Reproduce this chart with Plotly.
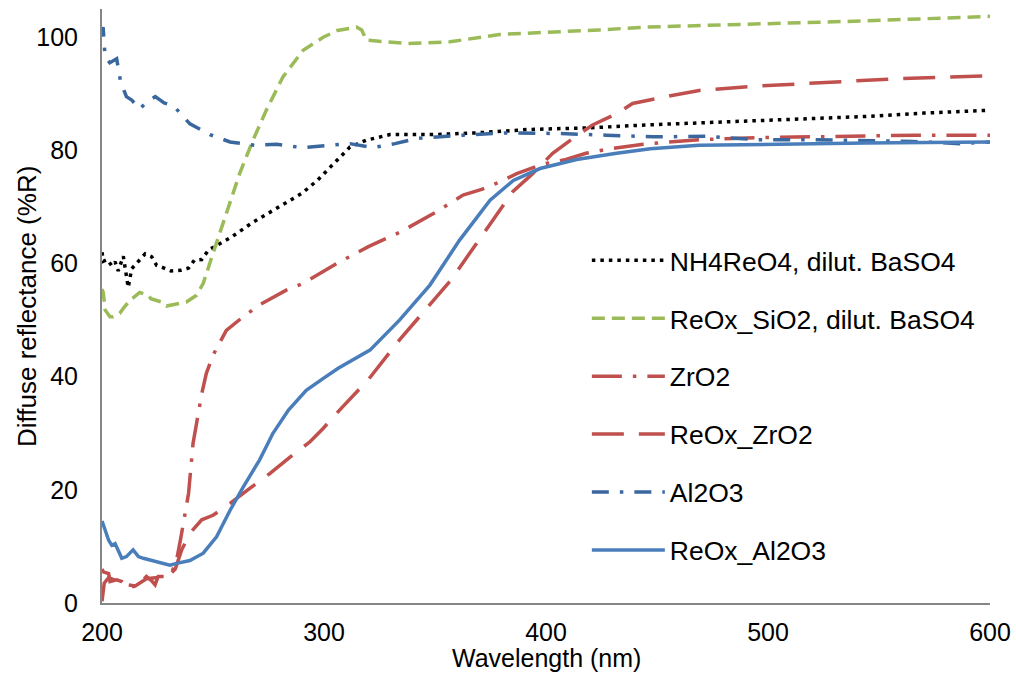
import plotly.graph_objects as go

# ---- data ----
nh4_x = [200, 200.6, 202.4, 204.4, 205.9, 207.3, 209.6, 210.8, 211.8, 213.4, 215.6, 219.4, 222.4, 224.6, 228, 231, 235.4, 239, 241.6, 244.9, 248, 258, 268, 279, 290, 297, 305.4, 311.7, 319, 329.7, 349, 368.7, 392, 419.8, 444.6, 469, 506.8, 544, 570, 600]
nh4_y = [62.0, 60.4, 60.7, 59.6, 60.3, 58.7, 61.3, 58.5, 55.8, 59.1, 60.0, 61.7, 61.2, 59.7, 59.2, 58.7, 58.8, 59.2, 60.6, 60.7, 62.4, 64.6, 67.3, 69.8, 72.4, 74.7, 78.1, 80.6, 81.8, 82.8, 82.8, 83.1, 83.7, 84.0, 84.5, 84.9, 85.4, 86.0, 86.6, 87.1]

sio2_x = [200, 200.6, 201.4, 203.6, 205, 208, 209.6, 212.6, 217, 220.9, 222, 226.9, 229, 233.6, 238, 242.6, 245.6, 250, 256, 262, 268, 274, 281.5, 290.6, 299.6, 306, 312, 314.7, 317, 319, 337, 356.8, 379, 409, 424, 445, 454, 499, 544, 600]
sio2_y = [55.5, 54.8, 51.8, 50.6, 50.6, 51.2, 52.1, 53.5, 54.9, 54.4, 53.8, 53.2, 52.5, 52.9, 53.2, 54.4, 56.5, 61.8, 68.9, 75.9, 81.8, 87.1, 93.0, 97.7, 100.0, 101.2, 101.6, 101.8, 101.3, 99.5, 98.9, 99.2, 100.5, 101.0, 101.3, 101.8, 101.9, 102.4, 102.9, 103.7]

zro2_x = [200, 200.6, 203, 203.6, 206.6, 209, 211, 214, 217, 220, 222.4, 223.9, 225.3, 229, 231.5, 233.6, 235.5, 237.4, 239, 241, 242.6, 245, 247, 250, 256, 263.6, 271, 283, 290.6, 305.7, 320, 334, 350, 362.6, 371, 379, 386.8, 398.8, 409, 418, 428.8, 443.8, 469, 499, 537, 567, 600]
zro2_y = [6.0, 5.5, 5.2, 3.8, 4.1, 3.8, 3.2, 2.9, 3.4, 4.7, 3.9, 3.2, 4.7, 4.7, 5.5, 7.6, 11.5, 16.1, 19.4, 28.2, 31.8, 37.1, 40.6, 43.8, 48.2, 50.6, 52.7, 55.3, 56.5, 60.0, 63.0, 65.5, 69.0, 72.1, 73.1, 74.4, 75.9, 77.6, 78.4, 79.5, 80.3, 81.1, 81.9, 82.3, 82.5, 82.7, 82.7]

rezro2_x = [200, 200.5, 201, 203, 206, 210, 215, 220, 225, 230, 233, 236, 240, 244.9, 250, 257.7, 266.7, 275.7, 284.7, 293.7, 299.7, 307, 320, 334, 357, 379, 385, 394, 403, 412, 421, 431.8, 439, 454, 469, 492, 514, 537, 559, 582, 600]
rezro2_y = [0.3, 1.5, 3.5, 4.5, 4.0, 3.3, 3.0, 4.3, 4.5, 4.8, 6.0, 9.5, 12.5, 14.7, 15.5, 17.6, 20.3, 22.9, 25.8, 28.5, 30.9, 34.1, 39.5, 46.5, 57.0, 69.4, 72.7, 75.9, 79.5, 82.1, 84.5, 86.5, 88.3, 89.5, 90.6, 91.3, 91.8, 92.3, 92.7, 93.0, 93.2]

al2o3_x = [200, 200.5, 201.4, 203.5, 206.6, 208.4, 211, 213.4, 217, 220, 224, 228, 232.4, 239.6, 248.6, 257.7, 269, 278.7, 290, 301, 311.7, 322, 332, 341.7, 362.6, 382, 404.8, 427, 448, 472, 495, 517, 540, 565, 586.5, 600]
al2o3_y = [100.5, 101.8, 96.5, 95.5, 96.2, 92.1, 89.5, 88.9, 87.3, 88.5, 89.5, 88.4, 87.8, 84.7, 82.8, 81.5, 80.9, 81.1, 80.5, 80.9, 81.2, 80.5, 81.2, 82.1, 82.7, 83.1, 83.0, 82.7, 82.4, 82.5, 81.9, 81.9, 81.8, 81.6, 81.2, 81.5]

real_x = [200, 200.6, 202.1, 203, 204.4, 205.9, 208.9, 211, 214, 216.4, 218.6, 224.6, 230.6, 233.6, 239.6, 245.6, 251.6, 257.7, 263.6, 271, 277, 284, 292, 299.7, 306.4, 320.7, 334, 347.7, 361, 374.8, 385.3, 397.3, 413.8, 431.8, 447, 469, 499, 544, 600]
real_y = [14.5, 13.8, 12.3, 11.1, 10.2, 10.5, 7.9, 8.2, 9.4, 8.2, 7.9, 7.3, 6.7, 7.0, 7.5, 8.8, 11.7, 16.4, 20.5, 25.3, 30.0, 34.1, 37.6, 39.7, 41.5, 44.7, 50.0, 56.2, 64.1, 71.2, 74.7, 76.8, 78.4, 79.5, 80.3, 80.9, 81.1, 81.3, 81.5]

names = ["NH4ReO4, dilut. BaSO4", "ReOx_SiO2, dilut. BaSO4", "ZrO2", "ReOx_ZrO2", "Al2O3", "ReOx_Al2O3"]
x_ticks = [200, 300, 400, 500, 600]
y_ticks = [0, 20, 40, 60, 80, 100]
x_title = "Wavelength (nm)"
y_title = "Diffuse reflectance (%R)"

series = [
    (nh4_x, nh4_y, "#000000", "3.5px,5px", 3.5),
    (sio2_x, sio2_y, "#9BBB59", "13px,7px", 3.5),
    (zro2_x, zro2_y, "#C0504D", "30px,11px,3.5px,11px", 3.5),
    (rezro2_x, rezro2_y, "#C0504D", "32px,15px", 3.5),
    (al2o3_x, al2o3_y, "#3A679E", "17px,11px,3.5px,11px", 3.5),
    (real_x, real_y, "#4A7EBB", "solid", 3.5),
]

fig = go.Figure()
for i, (xs, ys, col, dash, w) in enumerate(series):
    fig.add_trace(go.Scatter(
        x=xs, y=ys, mode="lines", name=names[i],
        line=dict(color=col, width=w, dash=dash),
        legendgroup=f"g{i}",
    ))

font_family = "Liberation Sans, Arial, sans-serif"
fig.update_layout(
    width=1016, height=679,
    margin=dict(l=102, r=26, t=9, b=76, autoexpand=False),
    paper_bgcolor="white", plot_bgcolor="white",
    font=dict(family=font_family, size=25, color="#000000"),
    showlegend=True,
    legend=dict(
        x=0.546, y=0.617, xanchor="left", yanchor="top",
        font=dict(size=26.5, family=font_family),
        itemwidth=73, tracegroupgap=20.5,
        bgcolor="rgba(0,0,0,0)",
    ),
    xaxis=dict(
        range=[200, 600], tickvals=x_ticks, ticktext=[str(v) for v in x_ticks],
        showline=True, linecolor="#868686", linewidth=2,
        showgrid=False, zeroline=False, ticks="",
        ticklabelstandoff=6, automargin=False,
    ),
    yaxis=dict(
        range=[0, 105], tickvals=y_ticks, ticktext=[str(v) for v in y_ticks],
        showline=True, linecolor="#868686", linewidth=2,
        showgrid=False, zeroline=False, ticks="",
        ticklabelstandoff=17, automargin=False,
    ),
    annotations=[
        dict(text=x_title, xref="paper", yref="paper", x=0.5, y=-0.0925,
             xanchor="center", yanchor="middle", showarrow=False,
             font=dict(size=25, family=font_family, color="#000000")),
        dict(text=y_title, xref="paper", yref="paper", x=-0.0845, y=0.5,
             xanchor="center", yanchor="middle", showarrow=False, textangle=-90,
             font=dict(size=26, family=font_family, color="#000000")),
    ],
)

fig.write_html("out.html")
